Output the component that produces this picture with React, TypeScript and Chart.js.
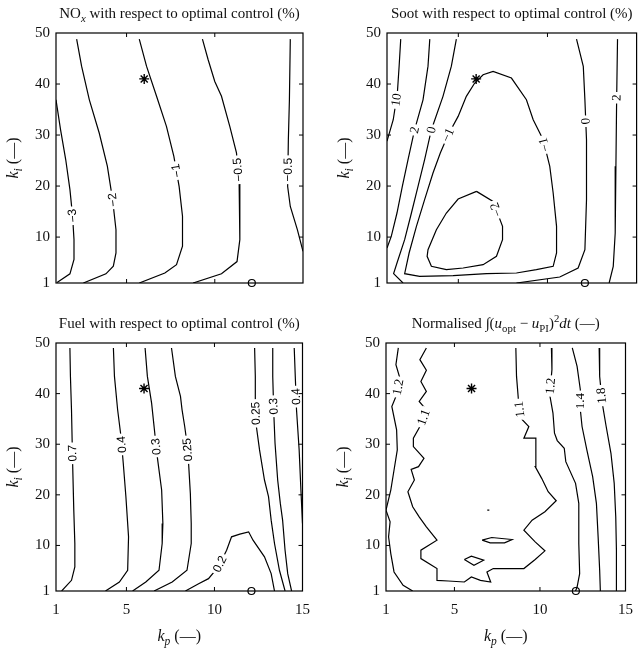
import { useEffect, useRef } from 'react';
import { Chart, registerables } from 'chart.js';

Chart.register(...registerables);

type Pt = [number, number];

// Shared axis ticks (proportional gain kp, integral gain ki)
const kpTicks = [1, 5, 10, 15];
const kiTicks = [1, 10, 20, 30, 40, 50];

// Tuned PI gains (asterisk) and initial gains (circle)
const tunedGain: Pt = [6, 41];
const initialGain: Pt = [12.1, 1];

// ---- NOx contours (kp, ki) ----
const noxM3: Pt[] = [[1.0, 36.9], [1.26, 31.0], [1.55, 25.2], [1.79, 19.3], [1.94, 14.1], [2.02, 9.5], [2.02, 5.6], [1.79, 2.8], [1.06, 1.1]];
const noxM2: Pt[] = [[2.17, 48.8], [2.45, 43.5], [2.89, 36.9], [3.45, 30.4], [3.91, 23.9], [4.21, 17.3], [4.40, 11.45], [4.40, 6.9], [4.25, 4.3], [3.83, 2.8], [2.55, 1.0]];
const noxM1: Pt[] = [[5.72, 48.8], [6.13, 43.5], [6.70, 37.6], [7.26, 31.7], [7.68, 25.8], [7.98, 19.9], [8.17, 14.1], [8.17, 8.2], [7.83, 4.6], [7.17, 2.96], [5.72, 1.0]];
const noxM05a: Pt[] = [[9.30, 48.8], [9.62, 44.8], [10.0, 40.5], [10.38, 37.6], [10.85, 31.7], [11.23, 26.5], [11.38, 20.6], [11.42, 14.1], [11.42, 9.5], [11.26, 5.2], [10.38, 2.8], [8.77, 1.0]];
const noxM05b: Pt[] = [[14.28, 48.8], [14.23, 36.9], [14.17, 29.1], [14.13, 19.9], [14.28, 16.0], [14.68, 11.45], [15.0, 7.2]];

// ---- Soot contours ----
const soot10: Pt[] = [[1.77, 48.8], [1.68, 43.5], [1.58, 38.2], [1.35, 33.0], [1.0, 28.8]];
const soot2a: Pt[] = [[3.40, 48.8], [3.30, 43.5], [3.02, 36.9], [2.55, 31.05], [2.18, 25.17], [1.86, 19.94], [1.56, 14.72], [1.24, 10.14], [1.0, 7.86]];
const soot0a: Pt[] = [[4.89, 48.8], [4.61, 43.5], [4.14, 37.58], [3.49, 31.05], [3.11, 25.17], [2.74, 19.94], [2.37, 14.72], [1.99, 9.49], [1.56, 4.92], [1.37, 2.83], [1.90, 1.0]];
const sootM1: Pt[] = [[5.92, 40.19], [5.45, 37.58], [4.99, 33.66], [4.43, 30.07], [3.99, 26.47], [3.58, 22.55], [3.11, 17.33], [2.65, 12.10], [2.24, 6.88], [1.99, 2.83], [2.83, 2.31], [4.71, 2.44], [6.58, 2.83], [8.26, 2.96], [9.38, 3.61], [10.32, 4.27], [10.51, 6.88], [10.51, 12.10], [10.32, 18.64], [10.13, 23.86], [9.76, 29.09], [9.20, 33.01], [8.82, 36.92], [7.98, 41.17], [6.95, 42.48], [6.39, 41.82], [5.92, 40.19]];
const sootM2: Pt[] = [[6.02, 18.96], [6.95, 17.0], [7.48, 12.10], [7.48, 9.49], [7.14, 6.23], [6.39, 4.59], [5.27, 3.94], [4.33, 3.61], [3.49, 4.27], [3.25, 6.23], [3.30, 7.53], [3.77, 11.45], [4.33, 14.72], [4.99, 17.46], [6.02, 18.96]];
const soot0b: Pt[] = [[8.26, 1.0], [10.69, 2.18], [11.72, 3.94], [12.10, 7.53], [12.19, 17.33], [12.19, 29.09], [12.10, 36.92], [12.01, 43.46], [11.63, 48.8]];
const soot2b: Pt[] = [[13.93, 48.8], [13.88, 36.92], [13.84, 23.86], [13.80, 10.80], [13.69, 4.27], [13.46, 1.0]];

// ---- Fuel contours ----
const fuel07: Pt[] = [[1.79, 49.02], [1.82, 43.40], [1.88, 36.80], [1.94, 26.89], [2.01, 16.98], [2.07, 10.38], [2.07, 5.76], [1.88, 3.11], [1.32, 1.0]];
const fuel04a: Pt[] = [[4.26, 49.02], [4.32, 43.40], [4.50, 36.80], [4.69, 31.52], [4.82, 26.23], [4.97, 19.63], [5.12, 11.70], [5.07, 5.10], [4.60, 2.78], [3.81, 1.0]];
const fuel03a: Pt[] = [[6.06, 49.02], [6.19, 43.40], [6.43, 38.12], [6.57, 33.50], [6.75, 27.55], [7.0, 20.95], [7.07, 14.34], [7.03, 10.38], [6.85, 5.10], [6.10, 2.78], [5.35, 1.0]];
const fuel025a: Pt[] = [[7.56, 49.02], [7.78, 43.40], [8.07, 39.44], [8.16, 36.80], [8.31, 33.50], [8.44, 30.19], [8.53, 26.23], [8.63, 20.29], [8.68, 14.34], [8.68, 10.38], [8.44, 5.10], [7.60, 2.78], [6.57, 1.0]];
const fuel02: Pt[] = [[8.35, 1.0], [9.10, 2.45], [9.66, 3.44], [10.22, 5.76], [10.69, 9.06], [10.97, 11.70], [11.44, 12.23], [11.94, 12.69], [12.19, 11.04], [12.84, 7.74], [13.22, 4.43], [13.41, 1.0]];
const fuel025b: Pt[] = [[12.28, 49.02], [12.32, 43.40], [12.32, 38.78], [12.38, 33.50], [12.56, 28.87], [12.84, 22.93], [13.07, 19.63], [13.22, 15.0], [13.41, 10.38], [13.69, 5.10], [14.01, 1.0]];
const fuel03b: Pt[] = [[13.31, 49.02], [13.31, 43.40], [13.37, 36.14], [13.44, 30.19], [13.59, 22.93], [13.74, 18.31], [13.87, 15.0], [14.01, 9.06], [14.16, 4.43], [14.38, 1.0]];
const fuel04b: Pt[] = [[14.53, 49.02], [14.59, 43.40], [14.66, 36.80], [14.81, 28.87], [14.91, 20.95], [15.0, 14.34]];

// ---- Normalised control-effort contours ----
const norm12a: Pt[] = [[1.72, 49.02], [1.58, 45.72], [1.81, 43.07], [1.62, 39.77], [1.34, 37.46], [1.62, 32.84], [1.66, 28.87], [1.47, 24.91], [1.28, 20.95], [1.0, 16.98], [1.24, 14.67], [1.15, 11.70], [1.28, 8.40], [1.47, 4.76], [2.0, 2.12], [2.56, 1.0]];
const norm11: Pt[] = [[3.36, 49.02], [2.98, 46.71], [3.36, 44.61], [3.04, 42.41], [3.36, 40.43], [2.94, 38.45], [3.36, 36.80], [3.04, 33.83], [2.60, 31.19], [2.60, 29.53], [3.22, 27.22], [2.90, 25.57], [2.47, 25.04], [2.66, 22.93], [2.28, 20.62], [2.56, 17.64], [2.94, 15.66], [3.36, 13.68], [3.98, 11.04], [3.04, 9.06], [3.04, 7.41], [3.98, 5.43], [3.98, 3.11], [4.64, 2.98], [5.58, 2.78], [5.99, 3.77], [6.52, 3.11], [7.12, 2.78], [6.90, 4.76], [7.27, 5.43], [8.22, 5.43], [9.06, 5.43], [9.72, 7.21], [10.29, 8.93], [9.72, 10.71], [9.06, 13.02], [9.54, 15.0], [10.29, 16.65], [10.95, 18.83], [10.48, 20.62], [10.10, 23.26], [9.72, 25.57], [9.76, 28.21], [9.76, 31.19], [9.06, 31.19], [9.35, 33.50], [8.88, 35.15], [8.74, 38.78], [8.63, 43.40], [8.59, 49.02]];
const norm11IslandA: Pt[] = [[6.62, 11.04], [7.18, 11.57], [8.37, 11.17], [7.93, 10.51], [7.09, 10.51], [6.62, 11.04]];
const norm11IslandB: Pt[] = [[5.58, 7.21], [5.99, 7.87], [6.71, 7.08], [6.14, 6.09], [5.58, 7.21]];
const norm11Speck: Pt[] = [[6.92, 16.98], [7.04, 16.98]];
const norm12b: Pt[] = [[10.67, 49.02], [10.70, 44.73], [10.57, 39.77], [10.76, 36.14], [10.85, 32.18], [11.01, 30.72], [11.42, 29.20], [11.51, 26.56], [12.08, 22.27], [12.27, 18.31], [12.27, 10.38], [12.32, 4.43], [12.17, 1.79], [12.08, 1.0]];
const norm14: Pt[] = [[11.89, 49.02], [12.17, 45.39], [12.36, 40.76], [12.36, 36.80], [12.46, 33.50], [12.74, 28.87], [13.08, 23.59], [13.30, 18.31], [13.40, 11.70], [13.49, 5.10], [13.53, 1.0]];
const norm18: Pt[] = [[13.46, 49.02], [13.49, 43.40], [13.64, 38.12], [13.87, 33.50], [14.15, 28.21], [14.34, 22.27], [14.43, 15.66], [14.47, 9.06], [14.47, 1.0]];

interface Contour { level: string; pts: Pt[]; at: Pt[] }

const noxContours: Contour[] = [
  { level: '−3', pts: noxM3, at: [[1.96, 14.2]] },
  { level: '−2', pts: noxM2, at: [[4.22, 17.3]] },
  { level: '−1', pts: noxM1, at: [[7.8, 23.0]] },
  { level: '−0.5', pts: noxM05a, at: [[11.36, 23.2]] },
  { level: '−0.5', pts: noxM05b, at: [[14.14, 23.2]] },
];
const sootContours: Contour[] = [
  { level: '10', pts: soot10, at: [[1.54, 36.9]] },
  { level: '2', pts: soot2a, at: [[2.55, 31.0]] },
  { level: '0', pts: soot0a, at: [[3.49, 31.0]] },
  { level: '−1', pts: sootM1, at: [[4.43, 30.0], [9.46, 27.8]] },
  { level: '−2', pts: sootM2, at: [[7.14, 15.4]] },
  { level: '0', pts: soot0b, at: [[12.17, 32.7]] },
  { level: '2', pts: soot2b, at: [[13.9, 37.3]] },
];
const fuelContours: Contour[] = [
  { level: '0.7', pts: fuel07, at: [[1.92, 28.2]] },
  { level: '0.4', pts: fuel04a, at: [[4.55, 29.9]] },
  { level: '0.3', pts: fuel03a, at: [[6.55, 29.5]] },
  { level: '0.25', pts: fuel025a, at: [[8.4, 28.9]] },
  { level: '0.2', pts: fuel02, at: [[10.25, 6.4]] },
  { level: '0.25', pts: fuel025b, at: [[12.3, 36.1]] },
  { level: '0.3', pts: fuel03b, at: [[13.33, 37.5]] },
  { level: '0.4', pts: fuel04b, at: [[14.6, 39.4]] },
];
const normContours: Contour[] = [
  { level: '1.2', pts: norm12a, at: [[1.7, 41.3]] },
  { level: '1.1', pts: norm11, at: [[3.2, 35.3], [8.81, 36.9]] },
  { level: '1.1', pts: norm11IslandA, at: [] },
  { level: '1.1', pts: norm11IslandB, at: [] },
  { level: '1.1', pts: norm11Speck, at: [] },
  { level: '1.2', pts: norm12b, at: [[10.62, 41.5]] },
  { level: '1.4', pts: norm14, at: [[12.36, 38.5]] },
  { level: '1.8', pts: norm18, at: [[13.6, 39.6]] },
];

type Seg = { t: string; it?: boolean; sub?: boolean; sup?: boolean };

const SERIF = "'Liberation Serif', 'DejaVu Serif', serif";
const SANS = "'Liberation Sans', 'DejaVu Sans', sans-serif";

interface Panel {
  title: Seg[];
  contours: Contour[];
  labelFont: string;
  cell: { x: number; y: number; w: number; h: number };
  frame: { l: number; t: number; r: number; b: number };
  showKp: boolean;
}

const panels: Panel[] = [
  {
    title: [{ t: 'NO' }, { t: 'x', it: true, sub: true }, { t: ' with respect to optimal control (%)' }],
    contours: noxContours,
    labelFont: `12px ${SANS}`,
    cell: { x: 0, y: 0, w: 320, h: 300 },
    frame: { l: 56, t: 33, r: 303, b: 283 },
    showKp: false,
  },
  {
    title: [{ t: 'Soot with respect to optimal control (%)' }],
    contours: sootContours,
    labelFont: `13px ${SERIF}`,
    cell: { x: 320, y: 0, w: 323, h: 300 },
    frame: { l: 387, t: 33, r: 637, b: 283 },
    showKp: false,
  },
  {
    title: [{ t: 'Fuel with respect to optimal control (%)' }],
    contours: fuelContours,
    labelFont: `12px ${SANS}`,
    cell: { x: 0, y: 300, w: 320, h: 350 },
    frame: { l: 56, t: 343, r: 305, b: 591 },
    showKp: true,
  },
  {
    title: [
      { t: 'Normalised ∫(' }, { t: 'u', it: true }, { t: 'opt', sub: true }, { t: ' − ' },
      { t: 'u', it: true }, { t: 'PI', sub: true }, { t: ')' }, { t: '2', sup: true },
      { t: 'dt', it: true }, { t: ' (—)' },
    ],
    contours: normContours,
    labelFont: `13px ${SERIF}`,
    cell: { x: 320, y: 300, w: 323, h: 350 },
    frame: { l: 386, t: 343, r: 633, b: 591 },
    showKp: true,
  },
];

const kiTitle: Seg[] = [{ t: 'k', it: true }, { t: 'i', it: true, sub: true }, { t: ' (—)' }];
const kpTitle: Seg[] = [{ t: 'k', it: true }, { t: 'p', it: true, sub: true }, { t: ' (—)' }];

function drawRich(ctx: CanvasRenderingContext2D, segs: Seg[], x: number, y: number, size: number) {
  const parts = segs.map((s) => {
    const fs = s.sub || s.sup ? size * 0.72 : size;
    const font = `${s.it ? 'italic ' : ''}${fs}px ${SERIF}`;
    ctx.font = font;
    const dy = s.sub ? size * 0.28 : s.sup ? -size * 0.42 : 0;
    return { s, font, dy, w: ctx.measureText(s.t).width };
  });
  const total = parts.reduce((a, p) => a + p.w, 0);
  let cx = x - total / 2;
  ctx.textAlign = 'left';
  ctx.textBaseline = 'alphabetic';
  for (const p of parts) {
    ctx.font = p.font;
    ctx.fillText(p.s.t, cx, y + p.dy);
    cx += p.w;
  }
}

function ContourPanel({ p }: { p: Panel }) {
  const ref = useRef<HTMLCanvasElement>(null);

  useEffect(() => {
    const canvas = ref.current;
    if (!canvas) return;
    const YW = 44;
    const XH = p.showKp ? 30 : 0;
    const padding = {
      left: p.frame.l - p.cell.x - YW,
      top: p.frame.t - p.cell.y,
      right: p.cell.x + p.cell.w - p.frame.r,
      bottom: p.cell.y + p.cell.h - p.frame.b - XH,
    };

    const datasets: any[] = p.contours.map((c) => ({
      data: c.pts.map(([x, y]) => ({ x, y })),
      showLine: true,
      borderColor: '#000',
      borderWidth: 1.2,
      pointRadius: 0,
      pointHoverRadius: 0,
      tension: 0,
      fill: false,
    }));
    datasets.push({
      data: [{ x: tunedGain[0], y: tunedGain[1] }],
      showLine: false,
      pointStyle: 'star',
      pointRadius: 5,
      borderColor: '#000',
      borderWidth: 1.4,
      clip: false,
    });
    datasets.push({
      data: [{ x: initialGain[0], y: initialGain[1] }],
      showLine: false,
      pointStyle: 'circle',
      pointRadius: 3.5,
      backgroundColor: '#fff',
      borderColor: '#000',
      borderWidth: 1.2,
      clip: false,
    });

    const decor = {
      id: 'contourDecor',
      afterDraw(chart: any) {
        const ctx: CanvasRenderingContext2D = chart.ctx;
        const ca = chart.chartArea;
        const xs = chart.scales.x;
        const ys = chart.scales.y;
        ctx.save();

        // contour level labels, placed on the line with a gap
        ctx.font = p.labelFont;
        for (const c of p.contours) {
          const px = c.pts.map(([x, y]) => [xs.getPixelForValue(x), ys.getPixelForValue(y)]);
          for (const [lx, ly] of c.at) {
            const qx = xs.getPixelForValue(lx);
            const qy = ys.getPixelForValue(ly);
            let best = { d: Infinity, x: qx, y: qy, a: 0 };
            for (let i = 0; i < px.length - 1; i++) {
              const [x0, y0] = px[i];
              const [x1, y1] = px[i + 1];
              const dx = x1 - x0, dy = y1 - y0;
              const len2 = dx * dx + dy * dy || 1;
              let t = ((qx - x0) * dx + (qy - y0) * dy) / len2;
              t = Math.max(0, Math.min(1, t));
              const sx = x0 + t * dx, sy = y0 + t * dy;
              const d = Math.hypot(qx - sx, qy - sy);
              if (d < best.d) best = { d, x: sx, y: sy, a: Math.atan2(dy, dx) };
            }
            let a = best.a;
            while (a >= Math.PI / 2 - 0.5) a -= Math.PI;
            while (a < -Math.PI / 2 - 0.5) a += Math.PI;
            ctx.save();
            ctx.translate(best.x, best.y);
            ctx.rotate(a);
            const w = ctx.measureText(c.level).width;
            ctx.fillStyle = '#fff';
            ctx.fillRect(-w / 2 - 2.5, -5, w + 5, 10);
            ctx.fillStyle = '#000';
            ctx.textAlign = 'center';
            ctx.textBaseline = 'middle';
            ctx.fillText(c.level, 0, 0.5);
            ctx.restore();
          }
        }

        // frame and inward tick marks
        ctx.strokeStyle = '#000';
        ctx.lineWidth = 1.2;
        ctx.strokeRect(ca.left, ca.top, ca.right - ca.left, ca.bottom - ca.top);
        ctx.lineWidth = 1;
        ctx.beginPath();
        for (const v of kpTicks) {
          const x = xs.getPixelForValue(v);
          if (v === 1 || v === 15) continue;
          ctx.moveTo(x, ca.bottom); ctx.lineTo(x, ca.bottom - 4);
          ctx.moveTo(x, ca.top); ctx.lineTo(x, ca.top + 4);
        }
        for (const v of kiTicks) {
          const y = ys.getPixelForValue(v);
          if (v === 1 || v === 50) continue;
          ctx.moveTo(ca.left, y); ctx.lineTo(ca.left + 4, y);
          ctx.moveTo(ca.right, y); ctx.lineTo(ca.right - 4, y);
        }
        ctx.stroke();

        // titles
        ctx.fillStyle = '#111';
        const cx = (ca.left + ca.right) / 2;
        drawRich(ctx, p.title, cx, ca.top - 15, 15);
        ctx.save();
        ctx.translate(ca.left - 38, (ca.top + ca.bottom) / 2);
        ctx.rotate(-Math.PI / 2);
        drawRich(ctx, kiTitle, 0, 0, 16);
        ctx.restore();
        if (p.showKp) drawRich(ctx, kpTitle, cx, ca.bottom + 50, 16);
        ctx.restore();
      },
    };

    const tickFont = { family: SERIF, size: 15 };
    const chart = new Chart(canvas, {
      type: 'scatter',
      data: { datasets },
      options: {
        animation: false,
        responsive: false,
        maintainAspectRatio: false,
        events: [],
        layout: { padding },
        plugins: {
          legend: { display: false },
          tooltip: { enabled: false },
          title: { display: false },
        },
        scales: {
          x: {
            type: 'linear',
            min: 1,
            max: 15,
            display: p.showKp,
            afterBuildTicks: (s: any) => { s.ticks = kpTicks.map((v) => ({ value: v })); },
            afterFit: (s: any) => { s.height = XH; },
            grid: { display: false, drawTicks: false },
            border: { display: false },
            ticks: { autoSkip: false, maxRotation: 0, padding: 10, font: tickFont, color: '#111' },
          },
          y: {
            type: 'linear',
            min: 1,
            max: 50,
            afterBuildTicks: (s: any) => { s.ticks = kiTicks.map((v) => ({ value: v })); },
            afterFit: (s: any) => { s.width = YW; },
            grid: { display: false, drawTicks: false },
            border: { display: false },
            ticks: { autoSkip: false, padding: 6, font: tickFont, color: '#111' },
          },
        },
      } as any,
      plugins: [decor],
    });
    return () => chart.destroy();
  }, [p]);

  return (
    <canvas
      ref={ref}
      width={p.cell.w}
      height={p.cell.h}
      style={{ position: 'absolute', left: p.cell.x, top: p.cell.y, width: p.cell.w, height: p.cell.h }}
    />
  );
}

export default function App() {
  return (
    <div style={{ position: 'absolute', left: 0, top: 0, width: 643, height: 650, background: '#fff' }}>
      {panels.map((p, i) => (
        <ContourPanel key={i} p={p} />
      ))}
    </div>
  );
}
